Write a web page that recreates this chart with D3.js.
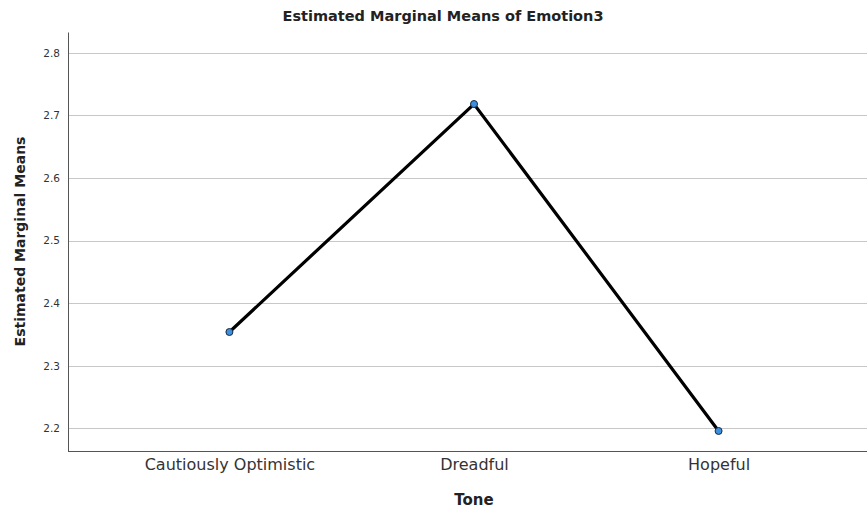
<!DOCTYPE html>
<html><head><meta charset="utf-8">
<script src="https://cdn.jsdelivr.net/npm/d3@7"></script>
<style>body{margin:0;background:#fff}svg{display:block}</style>
</head><body>
<svg id="c" width="867" height="510"></svg>
<script>
const categories = ["Cautiously Optimistic", "Dreadful", "Hopeful"];
const means = [2.354, 2.718, 2.196];
const yTicks = [2.2, 2.3, 2.4, 2.5, 2.6, 2.7, 2.8];
const title = "Estimated Marginal Means of Emotion3";
const xTitle = "Tone";
const yTitle = "Estimated Marginal Means";

const W = 867, H = 510;
const m = {left: 68, right: 0, top: 32, bottom: 59};
const svg = d3.select("#c");
const font = "DejaVu Sans, sans-serif";

const y = d3.scaleLinear().domain([2.164, 2.833]).range([H - m.bottom, m.top]);
const x = d3.scalePoint().domain(categories).range([m.left, 880]).padding(0.66);

// gridlines
svg.append("g").selectAll("line").data(yTicks).join("line")
  .attr("x1", m.left).attr("x2", W)
  .attr("y1", d => Math.round(y(d)) + 0.5).attr("y2", d => Math.round(y(d)) + 0.5)
  .attr("stroke", "#c8c8c8").attr("stroke-width", 1);

// y axis
const ya = svg.append("g").attr("transform", `translate(${m.left},0)`)
  .call(d3.axisLeft(y).tickValues(yTicks).tickSize(0).tickPadding(8).tickFormat(d3.format(".1f")));
ya.select(".domain").attr("stroke", "#555");
ya.selectAll("text").attr("font-family", font).attr("font-size", 10.5).attr("fill", "#333");

// x axis
const xa = svg.append("g").attr("transform", `translate(0,${H - m.bottom})`)
  .call(d3.axisBottom(x).tickSize(0).tickPadding(8));
xa.select(".domain").attr("stroke", "#555").attr("d", `M${m.left},0.5H${W}`);
xa.selectAll("text").attr("font-family", font).attr("font-size", 16).attr("fill", "#333");

// line
const data = categories.map((c, i) => ({c, v: means[i]}));
svg.append("path").datum(data)
  .attr("d", d3.line().x(d => x(d.c)).y(d => y(d.v)))
  .attr("fill", "none").attr("stroke", "#000").attr("stroke-width", 3.2);

svg.append("g").selectAll("circle").data(data).join("circle")
  .attr("cx", d => x(d.c)).attr("cy", d => y(d.v)).attr("r", 3.5)
  .attr("fill", "#3d8fe0").attr("stroke", "#1a2a40").attr("stroke-width", 1);

// titles
svg.append("text").attr("x", 443).attr("y", 21).attr("text-anchor", "middle")
  .attr("font-family", font).attr("font-weight", "bold").attr("font-size", 14.5).attr("fill", "#222").text(title);
svg.append("text").attr("x", x(categories[1])).attr("y", 505).attr("text-anchor", "middle")
  .attr("font-family", font).attr("font-weight", "bold").attr("font-size", 15).attr("fill", "#222").text(xTitle);
svg.append("text").attr("transform", `translate(25,${(m.top + H - m.bottom) / 2}) rotate(-90)`).attr("text-anchor", "middle")
  .attr("font-family", font).attr("font-weight", "bold").attr("font-size", 14).attr("fill", "#222").text(yTitle);
</script>
</body></html>
